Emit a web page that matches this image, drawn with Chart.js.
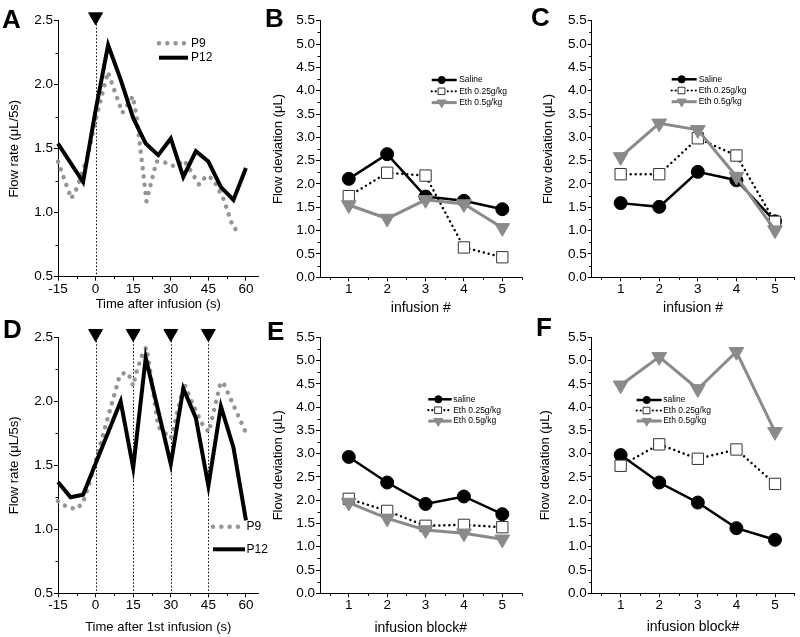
<!DOCTYPE html>
<html lang="en">
<head>
<meta charset="UTF-8">
<title>Flow rate and flow deviation after infusion</title>
<script src="https://cdn.jsdelivr.net/npm/chart.js"></script>
<style>
    body { margin: 0; background: #fff; }
    #fig { position: relative; width: 800px; height: 637px; overflow: hidden; background: #fff; }
    #fig canvas { position: absolute; }
    .tag { position: absolute; font-family: "Liberation Sans", Arial, sans-serif; font-weight: bold; font-size: 26px; line-height: 26px; }
</style>
</head>
<body>
<div id="fig">
    <canvas id="chartA" width="272" height="320" style="left:0;top:0"></canvas>
    <canvas id="chartB" width="265" height="320" style="left:265px;top:0"></canvas>
    <canvas id="chartC" width="270" height="320" style="left:530px;top:0"></canvas>
    <canvas id="chartD" width="272" height="327" style="left:0;top:310px"></canvas>
    <canvas id="chartE" width="265" height="327" style="left:265px;top:310px"></canvas>
    <canvas id="chartF" width="270" height="327" style="left:530px;top:310px"></canvas>
    <div class="tag" style="left:2px;top:6px">A</div>
    <div class="tag" style="left:265px;top:5px">B</div>
    <div class="tag" style="left:531px;top:4px">C</div>
    <div class="tag" style="left:3px;top:316px">D</div>
    <div class="tag" style="left:267px;top:318px">E</div>
    <div class="tag" style="left:536px;top:314px">F</div>
</div>

<script>
    // ---------- data ----------

    // A: single infusion at t = 0
    const aInfusions = [0];
    const aP9Time  = [-15, -9.7, -7.5, -3, 0, 4.9, 10.7, 14.9, 16.3, 20.3, 24.3, 28.3, 31.6, 35.3, 41.3, 44.3, 47, 51, 55, 57];
    const aP9Flow  = [1.40, 1.11, 1.19, 1.45, 1.72, 2.10, 1.78, 1.91, 1.76, 1.09, 1.40, 1.39, 1.36, 1.41, 1.22, 1.29, 1.26, 1.11, 0.88, 0.86];
    const aP12Time = [-15, -5, 0, 5, 10, 15, 20, 25, 30, 35, 40, 45, 50, 55, 60];
    const aP12Flow = [1.54, 1.24, 1.80, 2.31, 2.04, 1.74, 1.54, 1.45, 1.58, 1.28, 1.48, 1.40, 1.20, 1.10, 1.35];

    // D: four infusions
    const dInfusions = [0, 15, 30, 45];
    const dP9Time  = [-15, -11, -7.5, -5, -2.5, 9.6, 11.3, 13, 15, 16.3, 18.9, 20.3, 21.6, 25, 30, 31, 35.3, 38.3, 42.3, 45.2, 49.9, 51.3, 60.3];
    const dP9Flow  = [1.22, 1.17, 1.16, 1.21, 1.36, 2.20, 2.22, 2.22, 2.12, 2.23, 2.38, 2.42, 2.26, 1.80, 1.71, 1.78, 2.14, 2.00, 1.83, 1.76, 2.15, 2.13, 1.74];
    const dP12Time = [-15, -10, -5, 10, 15, 20, 30, 35, 40, 45, 50, 55, 60];
    const dP12Flow = [1.37, 1.25, 1.27, 2.00, 1.48, 2.34, 1.51, 2.10, 1.87, 1.34, 1.96, 1.64, 1.07];

    // B, C, E, F: flow deviation per infusion / block
    const infusionNo = [1, 2, 3, 4, 5];
    const bSaline = [2.11, 2.64, 1.73, 1.64, 1.46];
    const bEth025 = [1.74, 2.24, 2.18, 0.64, 0.43];
    const bEth05  = [1.55, 1.26, 1.66, 1.57, 1.06];
    const cSaline = [1.59, 1.51, 2.26, 2.08, 1.20];
    const cEth025 = [2.21, 2.21, 2.98, 2.61, 1.19];
    const cEth05  = [2.58, 3.30, 3.16, 2.16, 1.01];
    const eSaline = [2.93, 2.38, 1.92, 2.08, 1.70];
    const eEth025 = [2.03, 1.77, 1.45, 1.47, 1.42];
    const eEth05  = [1.95, 1.61, 1.36, 1.29, 1.16];
    const fSaline = [2.97, 2.38, 1.95, 1.40, 1.15];
    const fEth025 = [2.74, 3.20, 2.89, 3.09, 2.35];
    const fEth05  = [4.47, 5.08, 4.39, 5.19, 3.47];

    // tick values
    const timeTicks   = [-15, 0, 15, 30, 45, 60];
    const timeMinor   = [-7.5, 7.5, 22.5, 37.5, 52.5];
    const rateTicks   = [0.5, 1.0, 1.5, 2.0, 2.5];
    const rateMinor   = [0.75, 1.25, 1.75, 2.25];
    const devTicks    = [0, 0.5, 1, 1.5, 2, 2.5, 3, 3.5, 4, 4.5, 5, 5.5];
    const devMinor    = [0.25, 0.75, 1.25, 1.75, 2.25, 2.75, 3.25, 3.75, 4.25, 4.75, 5.25];
    const infMinor    = [0.5, 1.5, 2.5, 3.5, 4.5, 5.5];
    const markerLevel = 2.53;   // infusion arrows sit on top of the axis

    // ---------- styling ----------
    const FONT = '"Liberation Sans", Arial, sans-serif';
    const GRAY = '#8a8a8a';
    const DOTS = [0.01, 8.3];

    const pts = (xs, ys) => xs.map((x, i) => ({ x: x, y: ys[i] }));

    const styleSaline = { borderColor: '#000', borderWidth: 2.5, pointStyle: 'circle', pointRadius: 6.5,
        pointBackgroundColor: '#000', pointBorderColor: '#000', pointBorderWidth: 1, order: 3 };
    const styleEth025 = { borderColor: '#000', borderWidth: 2.5, borderDash: [0.01, 5], borderCapStyle: 'round',
        pointStyle: 'rect', pointRadius: 8, pointBackgroundColor: '#fff', pointBorderColor: '#333', pointBorderWidth: 1, order: 2 };
    const styleEth05  = { borderColor: GRAY, borderWidth: 3, pointStyle: 'triangle', pointRotation: 180, pointRadius: 8.5,
        pointBackgroundColor: GRAY, pointBorderColor: GRAY, pointBorderWidth: 1, order: 1 };
    const styleP9  = { borderColor: '#959595', borderWidth: 4.5, borderDash: DOTS, borderCapStyle: 'round', pointRadius: 0, order: 2 };
    const styleP12 = { borderColor: '#000', borderWidth: 4, borderJoinStyle: 'miter', pointRadius: 0, order: 1 };

    const legP9  = { label: 'P9',  color: '#959595', width: 4.5, dash: DOTS, cap: 'round' };
    const legP12 = { label: 'P12', color: '#000', width: 4 };
    const legSal = (label) => ({ label: label, color: '#000', width: 2.5,
        point: { style: 'circle', r: 3.6, fill: '#000', stroke: '#000', bw: 1 } });
    const legE25 = { label: 'Eth 0.25g/kg', color: '#000', width: 2.2, dash: [0.01, 4], cap: 'round',
        point: { style: 'rect', r: 4.6, fill: '#fff', stroke: '#333', bw: 1 } };
    const legE5  = { label: 'Eth 0.5g/kg', color: GRAY, width: 3,
        point: { style: 'triangle', rotation: 180, r: 5.2, fill: GRAY, stroke: GRAY, bw: 1 } };

    // draws infusion lines, minor ticks and the small in-plot legends
    const decor = {
        id: 'decor',
        beforeDatasetsDraw(chart, args, opts) {
            const { ctx, chartArea: a, scales: { x } } = chart;
            (opts.vlines || []).forEach(v => {
                const px = Math.round(x.getPixelForValue(v)) + 0.5;
                ctx.save();
                ctx.strokeStyle = '#000';
                ctx.lineWidth = 1;
                ctx.setLineDash([1.5, 2]);
                ctx.beginPath();
                ctx.moveTo(px, a.top);
                ctx.lineTo(px, a.bottom);
                ctx.stroke();
                ctx.restore();
            });
        },
        afterDraw(chart, args, opts) {
            const { ctx, chartArea: a, scales: { x, y } } = chart;
            ctx.save();
            ctx.strokeStyle = '#000';
            ctx.lineWidth = 1;
            (opts.minorX || []).forEach(v => {
                const px = Math.round(x.getPixelForValue(v)) + 0.5;
                ctx.beginPath(); ctx.moveTo(px, a.bottom); ctx.lineTo(px, a.bottom + 2.5); ctx.stroke();
            });
            (opts.minorY || []).forEach(v => {
                const py = Math.round(y.getPixelForValue(v)) + 0.5;
                ctx.beginPath(); ctx.moveTo(a.left - 2.5, py); ctx.lineTo(a.left, py); ctx.stroke();
            });
            ctx.restore();

            const L = opts.legend;
            if (!L) return;
            L.items.forEach((it, i) => {
                const yy = L.y + i * L.rowH;
                ctx.save();
                ctx.strokeStyle = it.color;
                ctx.lineWidth = it.width;
                ctx.lineCap = it.cap || 'butt';
                ctx.setLineDash(it.dash || []);
                ctx.beginPath();
                ctx.moveTo(L.x, yy);
                ctx.lineTo(L.x + L.len, yy);
                ctx.stroke();
                ctx.setLineDash([]);
                if (it.point) {
                    ctx.fillStyle = it.point.fill;
                    ctx.strokeStyle = it.point.stroke;
                    ctx.lineWidth = it.point.bw;
                    Chart.helpers.drawPoint(ctx, { pointStyle: it.point.style, rotation: it.point.rotation || 0,
                        radius: it.point.r, borderWidth: it.point.bw }, L.x + L.markAt, yy);
                }
                ctx.fillStyle = '#000';
                ctx.font = L.font + 'px ' + FONT;
                ctx.textBaseline = 'middle';
                ctx.fillText(it.label, L.x + L.len + L.gap, yy);
                ctx.restore();
            });
        }
    };

    function axis(a, dir, size) {
        return {
            type: 'linear',
            min: a.min,
            max: a.max,
            afterBuildTicks: s => { s.ticks = a.ticks.map(v => ({ value: v })); },
            afterFit: s => { if (dir === 'x') s.height = size; else s.width = size; },
            grid: { display: true, drawOnChartArea: false, drawTicks: true, tickLength: 4, tickColor: '#000', tickWidth: 1 },
            border: { display: true, color: '#000', width: 1 },
            ticks: {
                color: '#000', font: { family: FONT, size: 13.5 }, padding: dir === 'x' ? 0 : 1,
                autoSkip: false, maxRotation: 0, callback: v => a.fmt(v)
            },
            title: {
                display: true, text: a.title, color: '#000', font: { family: FONT, size: a.titleSize },
                padding: dir === 'x' ? { top: 0, bottom: a.titlePad } : { top: a.titlePad, bottom: 0 }
            }
        };
    }

    function makePanel(id, p) {
        return new Chart(document.getElementById(id), {
            type: 'line',
            data: { datasets: p.datasets },
            options: {
                responsive: false,
                animation: false,
                events: [],
                layout: { padding: { top: p.padTop, right: p.padRight, left: 0, bottom: 0 }, autoPadding: false },
                elements: { line: { tension: 0 } },
                plugins: { legend: { display: false }, tooltip: { enabled: false }, decor: p.decor },
                scales: { x: axis(p.x, 'x', p.xH), y: axis(p.y, 'y', p.yW) }
            },
            plugins: [decor]
        });
    }

    const fmtInt = v => String(v);
    const fmt1 = v => v.toFixed(1);

    function timePanel(id, p9t, p9f, p12t, p12f, infusions, xTitle, layout) {
        makePanel(id, {
            datasets: [
                Object.assign({ data: pts(p12t, p12f), clip: false }, styleP12),
                Object.assign({ data: pts(p9t, p9f), clip: false }, styleP9),
                { data: infusions.map(t => ({ x: t, y: markerLevel })), showLine: false, clip: false, order: 0,
                  pointStyle: 'triangle', pointRotation: 180, pointRadius: 8,
                  pointBackgroundColor: '#000', pointBorderColor: '#000', pointBorderWidth: 1 }
            ],
            padTop: layout.padTop, padRight: 13.5, xH: layout.xH, yW: 58,
            x: { min: -15, max: 65, ticks: timeTicks, fmt: fmtInt, title: xTitle, titleSize: 13, titlePad: layout.xPad },
            y: { min: 0.5, max: 2.5, ticks: rateTicks, fmt: fmt1, title: 'Flow rate (\u03bcL/5s)', titleSize: 13, titlePad: layout.yPad },
            decor: { vlines: infusions, minorX: timeMinor, minorY: rateMinor, legend: layout.legend }
        });
    }

    function devPanel(id, sal, e25, e5, salLabel, xTitle, layout) {
        makePanel(id, {
            datasets: [
                Object.assign({ data: pts(infusionNo, sal), clip: false }, styleSaline),
                Object.assign({ data: pts(infusionNo, e25), clip: false }, styleEth025),
                Object.assign({ data: pts(infusionNo, e5), clip: false }, styleEth05)
            ],
            padTop: layout.padTop, padRight: layout.padRight, xH: layout.xH, yW: layout.yW,
            x: { min: 0.25, max: 5.5, ticks: infusionNo, fmt: fmtInt, title: xTitle, titleSize: 14, titlePad: layout.xPad },
            y: { min: 0, max: 5.5, ticks: devTicks, fmt: fmt1, title: 'Flow deviation (\u03bcL)', titleSize: 13, titlePad: layout.yPad },
            decor: { minorX: infMinor, minorY: devMinor,
                     legend: Object.assign({ items: [legSal(salLabel), legE25, legE5], font: 8.5, markAt: 10 }, layout.legend) }
        });
    }

    timePanel('chartA', aP9Time, aP9Flow, aP12Time, aP12Flow, aInfusions, 'Time after infusion (s)',
        { padTop: 20.7, xH: 43.3, xPad: 8.2, yPad: 7, 
          legend: { x: 159, y: 43.3, len: 29, rowH: 14.4, gap: 3, font: 12, markAt: 0, items: [legP9, legP12] } });

    timePanel('chartD', dP9Time, dP9Flow, dP12Time, dP12Flow, dInfusions, 'Time after 1st infusion (s)',
        { padTop: 27.3, xH: 43.7, xPad: 1.7, yPad: 6.2,
          legend: { x: 213, y: 216.7, len: 32, rowH: 22.6, gap: 1.5, font: 12, markAt: 0, items: [legP9, legP12] } });

    devPanel('chartB', bSaline, bEth025, bEth05, 'Saline', 'infusion #',
        { padTop: 20.7, padRight: 8.5, xH: 42.7, yW: 55, xPad: 3.6, yPad: 6,
          legend: { x: 166.7, y: 80, len: 25, rowH: 11.3, gap: 2.5 } });

    devPanel('chartC', cSaline, cEth025, cEth05, 'Saline', 'infusion #',
        { padTop: 20.7, padRight: 5.7, xH: 42.7, yW: 61.7, xPad: 3.1, yPad: 11,
          legend: { x: 141.7, y: 79.3, len: 25, rowH: 11.2, gap: 2 } });

    devPanel('chartE', eSaline, eEth025, eEth05, 'saline', 'infusion block#',
        { padTop: 27.3, padRight: 8.5, xH: 43.7, yW: 55, xPad: 0, yPad: 5.7,
          legend: { x: 163.3, y: 89.3, len: 23.4, rowH: 10.9, gap: 1.5 } });

    devPanel('chartF', fSaline, fEth025, fEth05, 'saline', 'infusion block#',
        { padTop: 27.3, padRight: 5.7, xH: 43.7, yW: 61.7, xPad: 1.1, yPad: 7.8,
          legend: { x: 106.7, y: 90, len: 25, rowH: 10.5, gap: 1.5 } });
</script>
</body>
</html>
